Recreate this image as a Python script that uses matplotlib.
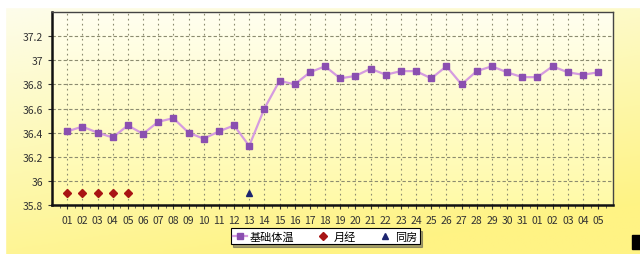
import matplotlib.pyplot as plt
from matplotlib.lines import Line2D
from matplotlib.colors import LinearSegmentedColormap
import numpy as np

plt.rcParams['font.family'] = ['Noto Sans CJK SC', 'DejaVu Sans']

# day labels (cycle runs over the month end)
days = ['01', '02', '03', '04', '05', '06', '07', '08', '09', '10', '11', '12',
        '13', '14', '15', '16', '17', '18', '19', '20', '21', '22', '23', '24',
        '25', '26', '27', '28', '29', '30', '31', '01', '02', '03', '04', '05']

# basal body temperature
temps = [36.41, 36.45, 36.40, 36.36, 36.46, 36.39, 36.49, 36.52, 36.40, 36.35,
         36.41, 36.46, 36.29, 36.60, 36.83, 36.80, 36.90, 36.95, 36.85, 36.87,
         36.93, 36.88, 36.91, 36.91, 36.85, 36.95, 36.80, 36.91, 36.95, 36.90,
         36.86, 36.86, 36.95, 36.90, 36.88, 36.90]

period_days = [1, 2, 3, 4, 5]
period_vals = [35.9, 35.9, 35.9, 35.9, 35.9]
sex_days = [13]
sex_vals = [35.9]

yticks = [35.8, 36.0, 36.2, 36.4, 36.6, 36.8, 37.0, 37.2]
ytick_labels = ['35.8', '36', '36.2', '36.4', '36.6', '36.8', '37', '37.2']

fig = plt.figure(figsize=(6.4, 2.55), dpi=100)

# yellow panel behind everything, pale at top, deeper yellow at bottom
bg = fig.add_axes([0, 0, 1, 1], zorder=-10)
bg_cmap = LinearSegmentedColormap.from_list('bg', ['#fdfdee', '#fdf9b8', '#fff384'])
gy = np.linspace(0, 1, 200).reshape(-1, 1)
gx = np.linspace(0, 1, 200).reshape(1, -1)
grad = np.clip(0.8 * (1 - gy) + 0.3 * gx + 0.05, 0, 1)
bg.imshow(grad, cmap=bg_cmap, aspect='auto', extent=[0, 1, 0, 1], origin='lower')
bg.add_patch(plt.Rectangle((0, 0.97), 1, 0.03, color='white', zorder=2))
bg.add_patch(plt.Rectangle((0, 0), 0.008, 1, color='white', zorder=2))
bg.add_patch(plt.Rectangle((0.988, 0.02), 0.012, 0.055, color='black', zorder=2))
bg.set_xlim(0, 1)
bg.set_ylim(0, 1)
bg.axis('off')

ax = fig.add_axes([0.08125, 0.192, 0.877, 0.757])
x = np.arange(1, len(days) + 1)

# plot area gradient
area_cmap = LinearSegmentedColormap.from_list('area', ['#fffaa8', '#fffff0'])
ax.imshow(np.linspace(0, 1, 100).reshape(-1, 1), cmap=area_cmap, aspect='auto',
          extent=[0, 37, 35.8, 37.4], origin='lower', zorder=0)

ax.plot(x, temps, color='#d59be0', lw=1.6, marker='s', ms=4,
        mfc='#8a4fb0', mec='#8a4fb0', zorder=3)
ax.plot(period_days, period_vals, ls='none', marker='D', ms=4.5,
        color='#a81414', zorder=3)
ax.plot(sex_days, sex_vals, ls='none', marker='^', ms=5,
        color='#1c2470', zorder=3)

ax.set_xlim(0, 37)
ax.set_ylim(35.8, 37.4)
ax.set_xticks(x)
ax.set_xticklabels(days)
ax.set_xticks(np.arange(0.5, 37, 1), minor=True)
ax.set_yticks(yticks)
ax.set_yticklabels(ytick_labels)
ax.tick_params(axis='both', labelsize=7.5, colors='#333333', length=3, width=0.8)
ax.tick_params(axis='x', which='minor', length=2, width=0.6, color='#555555')
ax.tick_params(axis='x', pad=4)

ax.grid(axis='y', color='#8c8c70', ls=(0, (3, 2)), lw=0.8)
ax.grid(axis='x', which='major', color='#8c8c70', ls=(0, (1.5, 3)), lw=0.8)
ax.set_axisbelow(True)

for side in ['left', 'bottom']:
    ax.spines[side].set_linewidth(1.8)
    ax.spines[side].set_color('#111111')
for side in ['top', 'right']:
    ax.spines[side].set_linewidth(1.0)
    ax.spines[side].set_color('#444444')

handles = [
    Line2D([], [], color='#d59be0', lw=1.6, marker='s', ms=4, mfc='#8a4fb0', mec='#8a4fb0'),
    Line2D([], [], ls='none', marker='D', ms=4, color='#a81414'),
    Line2D([], [], ls='none', marker='^', ms=5, color='#1c2470'),
]
leg = fig.legend(handles, ['基础体温', '月经', '同房'], loc='center',
                 bbox_to_anchor=(0.508, 0.07), ncol=3, fontsize=8,
                 frameon=True, fancybox=False, shadow=True,
                 handlelength=1.2, handletextpad=0.3, columnspacing=2.0,
                 borderpad=0.25)
leg.get_frame().set_edgecolor('black')
leg.get_frame().set_linewidth(0.8)

fig.savefig('out.png', dpi=100)
